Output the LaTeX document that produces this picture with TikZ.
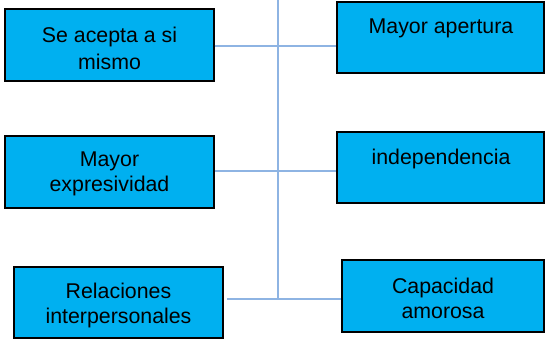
\documentclass[tikz,border=0pt]{standalone}
\usepackage{fontspec}
\setmainfont{Liberation Sans}
\usetikzlibrary{shadows}
\definecolor{boxfill}{HTML}{00B0F0}
\definecolor{conn}{HTML}{8EB4E3}
\tikzset{
  box/.style={draw=black, line width=1pt, fill=boxfill, inner sep=0pt,
    drop shadow={shadow xshift=0.8pt, shadow yshift=-0.8pt, fill=black!35, opacity=1}},
  lbl/.style={inner sep=0pt, align=center, font=\fontsize{16}{18.75}\selectfont},
  lblwide/.style={lbl, font=\fontsize{16}{20.25}\selectfont},
  connline/.style={draw=conn, line width=0.9pt}
}
\begin{document}
\begin{tikzpicture}[x=0.75pt,y=-0.75pt]
\useasboundingbox (0,0) rectangle (545,339);
\node[box, minimum width=156.75pt, minimum height=54pt] (b1) at (109.5,45) {};
\node[box, minimum width=155.25pt, minimum height=53.25pt] (b2) at (440.5,37.5) {};
\node[box, minimum width=156.75pt, minimum height=54pt] (b3) at (109.5,172) {};
\node[box, minimum width=155.25pt, minimum height=53.25pt] (b4) at (440.5,167.5) {};
\node[box, minimum width=156.75pt, minimum height=53.25pt] (b5) at (118.5,302.5) {};
\node[box, minimum width=151.5pt, minimum height=54pt] (b6) at (443,296) {};
\node[lblwide] (t1) at (109.5,48) {Se acepta a si\\mismo};
\node[lbl] (t2) at (441,28.5) {Mayor apertura};
\node[lbl] (t3) at (109.5,174) {Mayor\\expresividad};
\node[lbl] (t4) at (441,159) {independencia};
\node[lbl] (t5) at (118.5,305.5) {Relaciones\\interpersonales};
\node[lbl] (t6) at (443,298.5) {Capacidad\\amorosa};
\coordinate (vtop) at (278,0);
\coordinate (vbot) at (278,299);
\coordinate (l5) at (227,299);
\draw[connline] (vtop) -- (vbot);
\draw[connline] (b1.east |- 0,46) -- (b2.west |- 0,46);
\draw[connline] (b3.east |- 0,171) -- (b4.west |- 0,171);
\draw[connline] (l5) -- (b6.west |- l5);
\end{tikzpicture}
\end{document}
